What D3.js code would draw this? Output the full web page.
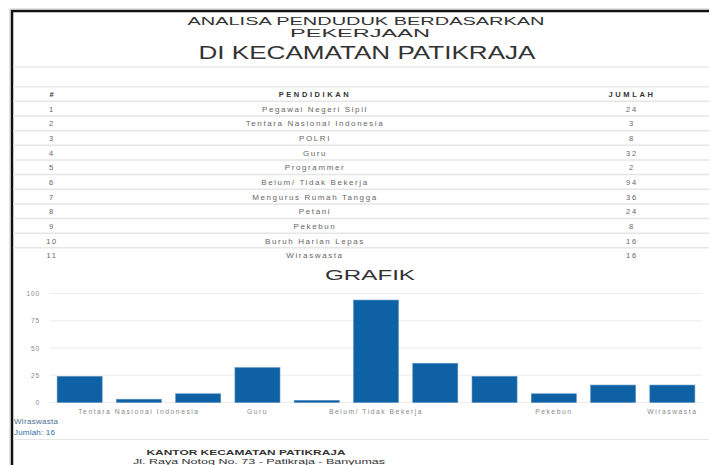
<!DOCTYPE html>
<html><head><meta charset="utf-8">
<script src="https://cdn.jsdelivr.net/npm/d3@7"></script>
<style>
html,body{margin:0;padding:0;background:#fff;}
svg{display:block;font-family:"Liberation Sans",Arial,sans-serif;}
</style></head>
<body>
<svg id="c" width="709" height="465"></svg>
<script>
const categories = ["Pegawai Negeri Sipil","Tentara Nasional Indonesia","POLRI","Guru","Programmer","Belum/ Tidak Bekerja","Mengurus Rumah Tangga","Petani","Pekebun","Buruh Harian Lepas","Wiraswasta"];
const values = [24,3,8,32,2,94,36,24,8,16,16];
const yTicks = [0,25,50,75,100];
const shownAxisLabels = ["Tentara Nasional Indonesia","Guru","Belum/ Tidak Bekerja","Pekebun","Wiraswasta"];
const tableHeader = ["#","PENDIDIKAN","JUMLAH"];
const tooltipLabel = "Wiraswasta";
const tooltipValue = 16;

const svg = d3.select("#c");
const W = 709, H = 465;
svg.append("rect").attr("width",W).attr("height",H).attr("fill","#fff");

// frame
svg.append("path").attr("d","M12,465 V11 H709").attr("fill","none").attr("stroke","#111").attr("stroke-width",2.5);
svg.append("path").attr("d","M10,465 V9 H709").attr("fill","none").attr("stroke","#bbb").attr("stroke-width",0.8);

// titles
svg.append("text").attr("x",366).attr("y",25.2).attr("text-anchor","middle").attr("font-size",11.2).attr("fill","#333")
  .attr("textLength",357).attr("lengthAdjust","spacingAndGlyphs").text("ANALISA PENDUDUK BERDASARKAN");
svg.append("text").attr("x",360).attr("y",37.2).attr("text-anchor","middle").attr("font-size",11.2).attr("fill","#333")
  .attr("textLength",140).attr("lengthAdjust","spacingAndGlyphs").text("PEKERJAAN");
svg.append("text").attr("x",367).attr("y",58.5).attr("text-anchor","middle").attr("font-size",19).attr("fill","#333")
  .attr("textLength",337).attr("lengthAdjust","spacingAndGlyphs").text("DI KECAMATAN PATIKRAJA");

// separators above table
[67,86.7].forEach(y=>svg.append("line").attr("x1",13).attr("x2",W).attr("y1",y).attr("y2",y).attr("stroke","#eaeaea").attr("stroke-width",1.5));

// table
const rowY = d3.scaleLinear().domain([0,11]).range([94,255.2]);
const colX = [52,315,632];
const tbl = svg.append("g");
const headerSpacing = [1,2.6,2.6];
tableHeader.forEach((h,i)=>{
  tbl.append("text").attr("x",colX[i]).attr("y",rowY(0)+3).attr("text-anchor","middle")
    .attr("font-size",7.5).attr("font-weight","bold").attr("letter-spacing",headerSpacing[i]).attr("fill","#333").text(h);
});
categories.forEach((c,i)=>{
  const y = rowY(i+1)+3;
  const ly = (rowY(i)+rowY(i+1))/2;
  tbl.append("line").attr("x1",13).attr("x2",W).attr("y1",ly).attr("y2",ly).attr("stroke","#e6e6e6").attr("stroke-width",1.5);
  tbl.append("text").attr("x",colX[0]).attr("y",y).attr("text-anchor","middle").attr("font-size",7.5).attr("letter-spacing",1.6).attr("fill","#666").text(i+1);
  tbl.append("text").attr("x",colX[1]).attr("y",y).attr("text-anchor","middle").attr("font-size",8).attr("letter-spacing",1.6).attr("fill","#666").text(c);
  tbl.append("text").attr("x",colX[2]).attr("y",y).attr("text-anchor","middle").attr("font-size",7.5).attr("letter-spacing",1.8).attr("fill","#666").text(values[i]);
});

// chart
svg.append("text").attr("x",370).attr("y",279.5).attr("text-anchor","middle").attr("font-size",15.5).attr("fill","#333")
  .attr("textLength",90).attr("lengthAdjust","spacingAndGlyphs").text("GRAFIK");

const x = d3.scaleBand().domain(categories).range([50,702]).paddingInner(0.24).paddingOuter(0.12);
const y = d3.scaleLinear().domain([0,100]).range([402.5,293.5]);

const grid = svg.append("g");
yTicks.forEach(t=>{
  grid.append("line").attr("x1",50).attr("x2",702).attr("y1",y(t)).attr("y2",y(t)).attr("stroke","#ececec").attr("stroke-width",1.2);
});
const yAxis = svg.append("g").attr("transform","translate(40,0)")
  .call(d3.axisLeft(y).tickValues(yTicks).tickSize(0).tickPadding(0));
yAxis.select(".domain").remove();
yAxis.selectAll("text").attr("font-size",6.5).attr("fill","#888").attr("letter-spacing",0.9).attr("font-family","Liberation Sans, Arial, sans-serif");

svg.append("g").selectAll("rect").data(values).join("rect")
  .attr("x",(d,i)=>x(categories[i])).attr("width",x.bandwidth())
  .attr("y",d=>y(d)).attr("height",d=>y(0)-y(d))
  .attr("fill","#0e61a5").attr("stroke","#5b8fc0").attr("stroke-width",0.6);

const xAxis = svg.append("g").attr("transform","translate(0,402.5)")
  .call(d3.axisBottom(x).tickSize(0).tickPadding(7).tickFormat(d=>shownAxisLabels.includes(d)?d:""));
xAxis.select(".domain").remove();
xAxis.selectAll("text").attr("font-size",6.8).attr("fill","#888").attr("letter-spacing",1.5).attr("font-family","Liberation Sans, Arial, sans-serif");

// tooltip-like text
svg.append("text").attr("x",14).attr("y",424).attr("font-size",8).attr("letter-spacing",0.3).attr("fill","#4a6c8f").text(tooltipLabel);
svg.append("text").attr("x",14).attr("y",435).attr("font-size",8).attr("letter-spacing",0.2).attr("fill","#2f6aa6").text("Jumlah: " + tooltipValue);

// footer
svg.append("line").attr("x1",13).attr("x2",W).attr("y1",439.5).attr("y2",439.5).attr("stroke","#e6e6e6").attr("stroke-width",1.2);
svg.append("text").attr("x",246).attr("y",454.5).attr("text-anchor","middle").attr("font-size",7.5).attr("font-weight","bold").attr("fill","#333")
  .attr("textLength",199).attr("lengthAdjust","spacingAndGlyphs").text("KANTOR KECAMATAN PATIKRAJA");
svg.append("text").attr("x",259).attr("y",463.5).attr("text-anchor","middle").attr("font-size",7.5).attr("fill","#333")
  .attr("textLength",252).attr("lengthAdjust","spacingAndGlyphs").text("Jl. Raya Notog No. 73 - Patikraja - Banyumas");
</script>
</body></html>
